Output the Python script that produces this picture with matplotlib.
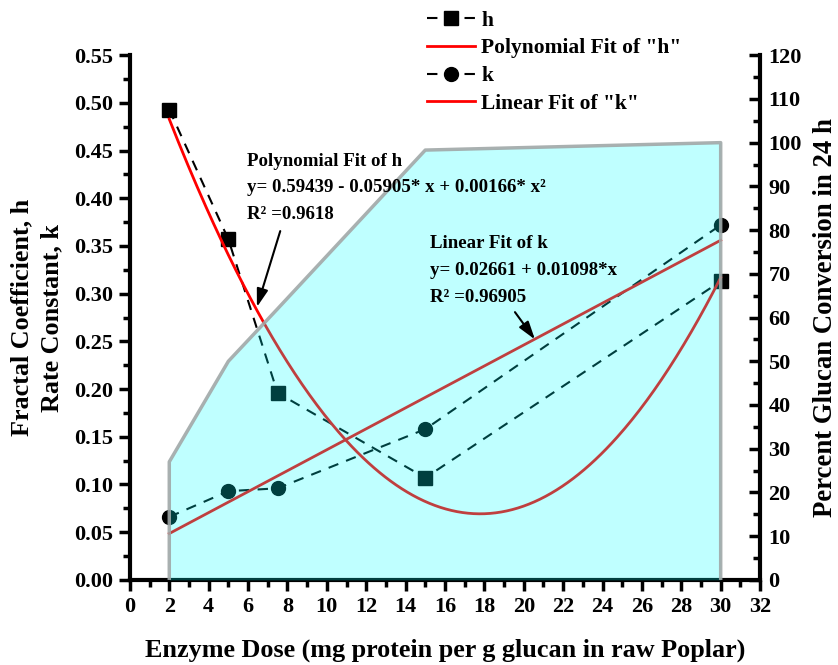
import numpy as np
import matplotlib.pyplot as plt
from matplotlib.ticker import MultipleLocator

plt.rcParams['font.family'] = ['Liberation Serif', 'DejaVu Serif']
plt.rcParams['font.weight'] = 'bold'

# measured data
dose = [2, 5, 7.5, 15, 30]
h_val = [0.493, 0.357, 0.196, 0.107, 0.313]
k_val = [0.066, 0.093, 0.096, 0.158, 0.372]
conv_dose = [2, 5, 7.5, 15, 30]
conv_val = [27, 50, 62, 98.3, 100]

# fit coefficients as reported on the chart
h_poly = [0.00166, -0.05905, 0.59439]
k_lin = [0.01098, 0.02661]

fig = plt.figure(figsize=(8.38, 6.65), dpi=100)
ax = fig.add_axes([0.155, 0.128, 0.752, 0.789])
ax2 = ax.twinx()

xf = np.linspace(2, 30, 300)
ax.plot(dose, h_val, ls=(0, (5, 4)), color='black', lw=1.5, marker='s', ms=10,
        label='h')
ax.plot(xf, np.polyval(h_poly, xf), color='red', lw=2, label='Polynomial Fit of "h"')
ax.plot(dose, k_val, ls=(0, (5, 4)), color='black', lw=1.5, marker='o', ms=10,
        label='k')
ax.plot(xf, np.polyval(k_lin, xf), color='red', lw=2, label='Linear Fit of "k"')

# area on right axis, drawn over everything with transparency
ax2.fill_between(conv_dose, 0, conv_val, color='cyan', alpha=0.25, lw=0)
ax2.plot([conv_dose[0]] + conv_dose + [conv_dose[-1]], [0] + conv_val + [0],
         color='#A0A8A8', lw=2.5, alpha=0.9)

ax.set_xlim(0, 32)
ax.set_ylim(0, 0.55)
ax2.set_ylim(0, 120)
ax.xaxis.set_major_locator(MultipleLocator(2))
ax.xaxis.set_minor_locator(MultipleLocator(1))
ax.yaxis.set_major_locator(MultipleLocator(0.05))
ax.yaxis.set_minor_locator(MultipleLocator(0.025))
ax2.yaxis.set_major_locator(MultipleLocator(10))
ax2.yaxis.set_minor_locator(MultipleLocator(5))
ax.yaxis.set_major_formatter(plt.FormatStrFormatter('%.2f'))

for a in (ax, ax2):
    a.spines['top'].set_visible(False)
    for s in a.spines.values():
        s.set_linewidth(3)
ax.spines['right'].set_visible(False)
ax2.spines['left'].set_visible(False)
ax2.spines['bottom'].set_visible(False)
ax2.patch.set_visible(False)

ax.tick_params(which='major', direction='out', length=8, width=2.5, labelsize=16, pad=4)
ax.tick_params(which='minor', direction='out', length=5, width=2.5)
ax2.tick_params(which='major', direction='in', length=8, width=2.5, labelsize=16, pad=6)
ax2.tick_params(which='minor', direction='in', length=5, width=2.5)
for lab in ax.get_xticklabels() + ax.get_yticklabels() + ax2.get_yticklabels():
    lab.set_fontweight('bold')

ax.set_xlabel('Enzyme Dose (mg protein per g glucan in raw Poplar)', fontsize=18.8,
              fontweight='bold', labelpad=16)
ax.set_ylabel('Fractal Coefficient, h\nRate Constant, k', fontsize=18.8,
              fontweight='bold', labelpad=8, linespacing=1.4)
ax2.set_ylabel('Percent Glucan Conversion in 24 h', fontsize=19.3, fontweight='bold',
               labelpad=8)

ax2.annotate('Polynomial Fit of h\ny= 0.59439 - 0.05905* x + 0.00166* x²\nR² =0.9618',
             xy=(6.45, 0.286), xycoords=ax.transData,
             xytext=(5.94, 0.448), textcoords=ax.transData, ha='left', va='top',
             fontsize=13.6, fontweight='bold', linespacing=1.75,
             arrowprops=dict(arrowstyle='-|>,head_length=0.8,head_width=0.25',
                             color='black', lw=1.5,
                             shrinkA=4, shrinkB=0, relpos=(0.12, 0.0)))
ax2.annotate('Linear Fit of k\ny= 0.02661 + 0.01098*x\nR² =0.96905',
             xy=(20.57, 0.252), xycoords=ax.transData,
             xytext=(15.24, 0.361), textcoords=ax.transData, ha='left', va='top',
             fontsize=13.6, fontweight='bold', linespacing=1.75,
             arrowprops=dict(arrowstyle='-|>,head_length=0.8,head_width=0.25',
                             color='black', lw=1.5,
                             shrinkA=3, shrinkB=0, relpos=(0.43, 0.0)))

ax2.legend(*ax.get_legend_handles_labels(), loc='upper left',
           bbox_to_anchor=(0.497, 1.0), bbox_transform=fig.transFigure,
           frameon=False, prop={'size': 15.5, 'weight': 'bold'},
           handlelength=2.2, labelspacing=0.35, borderaxespad=0.1, handletextpad=0.3)

fig.savefig('out.png', dpi=100)
